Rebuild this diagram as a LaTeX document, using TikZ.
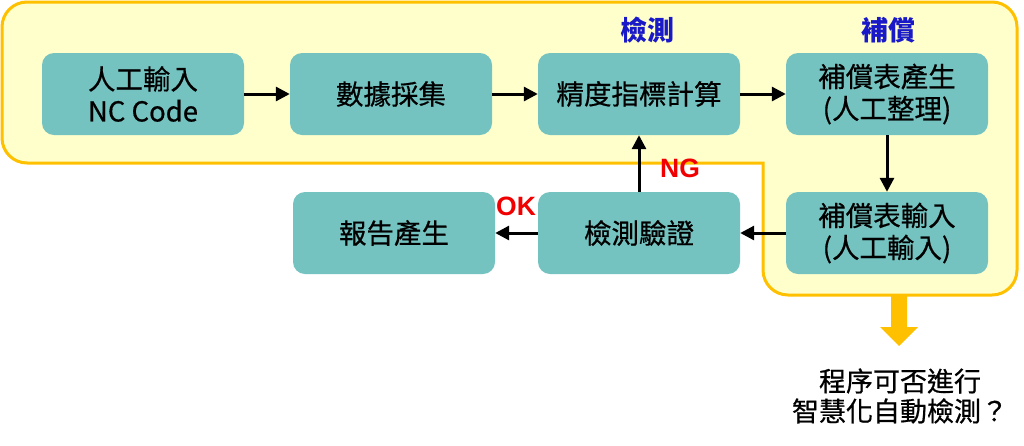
\documentclass[tikz,border=0pt]{standalone}
\usepackage{fontspec}
\setmainfont{Noto Sans CJK TC}
\newfontfamily\medfont[FakeBold=0.6]{Noto Sans CJK TC}
\newfontfamily\latinbold{Liberation Sans}
\usetikzlibrary{arrows.meta}
\definecolor{teal1}{RGB}{116,195,192}
\definecolor{yelfill}{RGB}{255,255,204}
\definecolor{gold1}{RGB}{255,192,0}
\definecolor{blue1}{RGB}{25,25,200}
\definecolor{red1}{RGB}{240,0,0}
\tikzset{
  procbox/.style={fill=teal1, rounded corners=12pt, minimum width=202pt, minimum height=82pt,
    inner sep=0pt, align=center, font=\medfont\fontsize{27.5}{32}\selectfont, text=black},
  flow/.style={line width=3pt, -{Triangle[length=14pt,width=14pt]}},
  steplabel/.style={text=blue1, font=\fontsize{27}{30}\selectfont\bfseries},
  reslabel/.style={text=red1, font=\latinbold\fontsize{26.5}{28}\selectfont\bfseries},
}
\begin{document}
\begin{tikzpicture}[x=1pt,y=-1pt]
\useasboundingbox (0,0) rectangle (1024,445);
% yellow region
\filldraw[fill=yelfill, draw=gold1, line width=3pt, line cap=rect, rounded corners=25pt]
  (763,163) -- (2,163) -- (2,2) -- (1017,2) -- (1017,295) -- (763,295) -- (763,163);
% big arrow
\fill[gold1] (891,296) -- (907,296) -- (907,327) -- (918,327) -- (899,346) -- (880,327) -- (891,327) -- cycle;
% boxes
\node[procbox] (b1) at (143,94) {人工輸入\\NC Code};
\node[procbox] (b2) at (391,94) {數據採集};
\node[procbox] (b3) at (639,94) {精度指標計算};
\node[procbox] (b4) at (887,94) {補償表產生\\(人工整理)};
\node[procbox] (b5) at (887,233) {補償表輸入\\(人工輸入)};
\node[procbox] (b6) at (639,233) {檢測驗證};
\node[procbox] (b7) at (394,233) {報告產生};
% labels
\node[steplabel] (l1) at (647,30) {檢測};
\node[steplabel] (l2) at (888,30) {補償};
\node[reslabel] (ng) at (680,168) {NG};
\node[reslabel] (ok) at (516,206) {OK};
\node[align=center, font=\medfont\fontsize{27}{30}\selectfont] (q) at (900,396) {程序可否進行\\智慧化自動檢測？};
% connectors
\draw[flow] (b1.east) -- (b2.west);
\draw[flow] (b2.east) -- (b3.west);
\draw[flow] (b3.east) -- (b4.west);
\draw[flow] (b4.south) -- (b5.north);
\draw[flow] (b5.west) -- (b6.east);
\draw[flow] (b6.west) -- (b7.east);
\draw[flow] (b6.north) -- (b3.south);
\end{tikzpicture}
\end{document}
